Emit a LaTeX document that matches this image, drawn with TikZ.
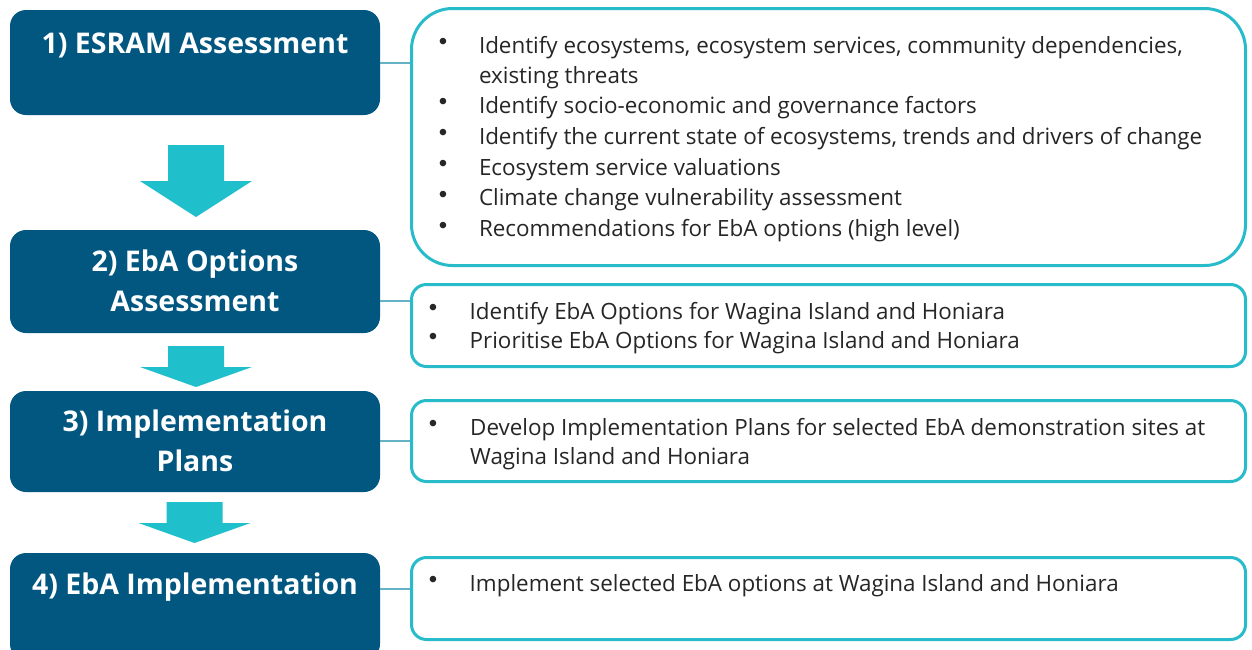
\documentclass[tikz,border=0pt]{standalone}
\usepackage{fontspec}
\setmainfont{Open Sans}
\newfontfamily\bulfont{Liberation Sans}
\definecolor{navy}{RGB}{1,87,128}
\definecolor{arrowcol}{RGB}{31,191,204}
\definecolor{bordercol}{RGB}{40,188,203}
\definecolor{conncol}{RGB}{100,178,198}
\definecolor{txtcol}{RGB}{38,38,38}
\tikzset{
  stagebox/.style={fill=navy, draw=none, rounded corners=16pt, minimum width=370pt, inner sep=0pt},
  infobox/.style={draw=bordercol, line width=3pt, fill=white, rounded corners=15pt, minimum width=834pt, inner sep=0pt},
  stagetitle/.style={text=white, font=\fontsize{28.5}{40}\selectfont\bfseries, align=center, inner sep=0pt, anchor=base},
  itemtext/.style={text=txtcol, font=\fontsize{22.4}{30}\selectfont, align=left, inner sep=0pt, anchor=base west},
  bul/.style={text=txtcol, font=\bulfont\fontsize{24}{24}\selectfont, inner sep=0pt, anchor=center},
  conn/.style={draw=conncol, line width=2pt},
  flow/.style={fill=arrowcol, draw=none}
}
\newcommand{\flowarrow}[4]{% center x, top y, neck y, tip y
  \fill[flow] (#1-28,#2) -- (#1+28,#2) -- (#1+28,#3) -- (#1+56,#3) -- (#1,#4) -- (#1-56,#3) -- (#1-28,#3) -- cycle;}
\begin{document}
\begin{tikzpicture}[x=1pt,y=-1pt]
\useasboundingbox (0,0) rectangle (1252,649);
\fill[white] (0,0) rectangle (1252,649);

% stage boxes
\node[stagebox, minimum height=105pt] (s1) at (195,62.5) {};
\node[stagebox, minimum height=103pt] (s2) at (195,281.5) {};
\node[stagebox, minimum height=101pt] (s3) at (195,441.5) {};
\node[stagebox, minimum height=107pt] (s4) at (195,606.5) {};

% info boxes
\node[infobox, rounded corners=41pt, minimum height=257pt] (r1) at (828.5,137) {};
\node[infobox, minimum height=82pt] (r2) at (828.5,325.5) {};
\node[infobox, minimum height=81pt] (r3) at (828.5,441) {};
\node[infobox, minimum height=82pt] (r4) at (828.5,598.5) {};

% connectors
\draw[conn] (s1.east |- 0,63) -- (r1.west |- 0,63);
\draw[conn] (s2.east |- 0,301) -- (r2.west |- 0,301);
\draw[conn] (s3.east |- 0,441) -- (r3.west |- 0,441);
\draw[conn] (s4.east |- 0,589) -- (r4.west |- 0,589);

% flow arrows
\flowarrow{196}{145}{181}{217}
\flowarrow{196}{346}{367}{387}
\flowarrow{194.5}{502}{523}{543}

% titles (multi-line nodes are anchored at the last baseline)
\node[stagetitle] (t1) at (195,53.3) {1) ESRAM Assessment};
\node[stagetitle] (t2) at (195,311.7) {2) EbA Options\\Assessment};
\node[stagetitle] (t3) at (195,471.7) {3) Implementation\\Plans};
\node[stagetitle] (t4) at (195,594.3) {4) EbA Implementation};

% box 1 items
\node[itemtext] (a1) at (478.8,83.3) {Identify ecosystems, ecosystem services, community dependencies,\\existing threats};
\node[itemtext] (a2) at (478.8,113.3) {Identify socio-economic and governance factors};
\node[itemtext] (a3) at (478.8,144.3) {Identify the current state of ecosystems, trends and drivers of change};
\node[itemtext] (a4) at (478.8,175) {Ecosystem service valuations};
\node[itemtext] (a5) at (478.8,205.7) {Climate change vulnerability assessment};
\node[itemtext] (a6) at (478.8,236.7) {Recommendations for EbA options (high level)};
\foreach \yy in {44,104,135,165.7,196.4,227.4} \node[bul] at (443,\yy) {•};

% box 2 items
\node[itemtext] (b1) at (469.5,319) {Identify EbA Options for Wagina Island and Honiara};
\node[itemtext] (b2) at (469.5,348.5) {Prioritise EbA Options for Wagina Island and Honiara};
\foreach \yy in {309.5,339} \node[bul] at (433,\yy) {•};

% box 3 items
\node[itemtext, font=\fontsize{22.4}{29}\selectfont] (c1) at (470,464) {Develop Implementation Plans for selected EbA demonstration sites at\\Wagina Island and Honiara};
\node[bul] at (433,425.5) {•};

% box 4 items
\node[itemtext] (d1) at (469.5,591) {Implement selected EbA options at Wagina Island and Honiara};
\node[bul] at (433,582) {•};
\end{tikzpicture}
\end{document}
